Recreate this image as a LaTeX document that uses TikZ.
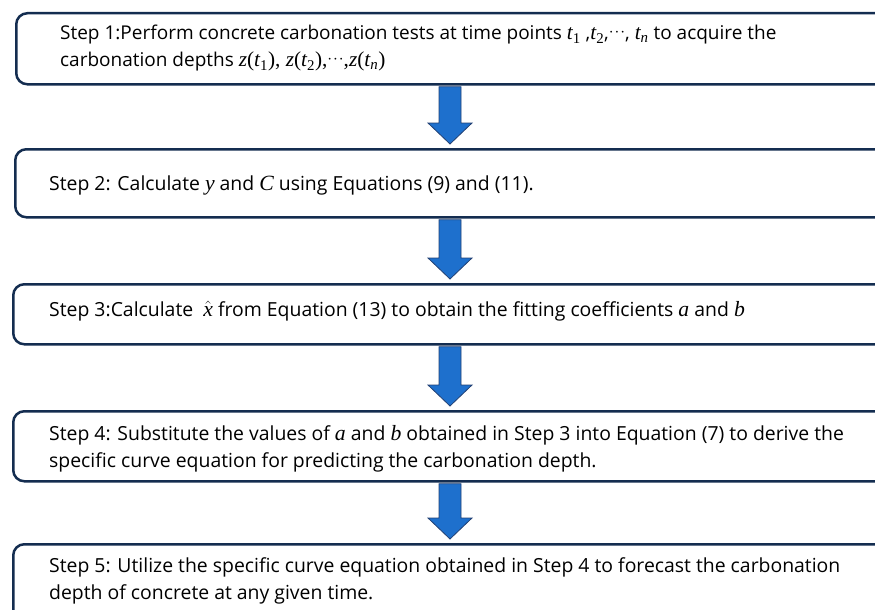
\documentclass[tikz,border=0pt]{standalone}
\usepackage{fontspec}
\setmainfont{Open Sans}
\newfontfamily\mathfnt[Scale=1.12]{Liberation Serif}
\usetikzlibrary{calc}

\definecolor{boxline}{RGB}{20,45,80}
\definecolor{arrowfill}{RGB}{30,112,205}
\definecolor{arrowline}{RGB}{35,65,115}

% italic serif variables and subscripted variables
\newcommand\mv[1]{{\mathfnt\itshape #1}}
\newcommand\msub[2]{\mv{#1}\textsubscript{\mathfnt #2}}
\newcommand\msubi[2]{\mv{#1}\textsubscript{\mathfnt\itshape #2}}
\newcommand\cdts{\raisebox{0.35ex}{$\cdot\!\cdot\!\cdot$}}

% downward block arrow between two stacked boxes
\newcommand\stepArrow[2]{%
  \draw[blockarrow] let \p1=(#1.south), \p2=(#2.north) in
    (439pt,{\y1-1.2pt}) -- (461pt,{\y1-1.2pt}) -- (461pt,{\y2+25pt})
    -- (472pt,{\y2+25pt}) -- (450pt,{\y2+4pt}) -- (428pt,{\y2+25pt})
    -- (439pt,{\y2+25pt}) -- cycle;}

\begin{document}
\begin{tikzpicture}[x=1pt,y=-1pt,
  stepbox/.style={draw=boxline, line width=2.5pt, rounded corners=11pt,
    fill=white, anchor=north west, inner sep=0pt, minimum width=880pt},
  steptext/.style={anchor=west, align=left, inner sep=0pt,
    font=\fontsize{19.4}{27}\selectfont},
  blockarrow/.style={fill=arrowfill, draw=arrowline, line width=0.8pt}]
\useasboundingbox (0,0) rectangle (875,610);

\node[stepbox, minimum height=71pt] (box1) at (15,12) {};
\node[stepbox, minimum height=68pt] (box2) at (14,148) {};
\node[stepbox, minimum height=60pt] (box3) at (12,283) {};
\node[stepbox, minimum height=70pt] (box4) at (12,410) {};
\node[stepbox, minimum height=90pt] (box5) at (12,543) {};

\node[steptext, font=\fontsize{19}{27}\selectfont] (txt1) at (60,48.5) {Step 1:Perform concrete carbonation tests at time points \msub{t}{1} ,\msub{t}{2},\cdts, \msubi{t}{n} to acquire the\\
carbonation depths {\mathfnt\mv{z}(\msub{t}{1}), \mv{z}(\msub{t}{2}),\cdts,\mv{z}(\msubi{t}{n})}};
\node[steptext] (txt2) at (49,185) {Step 2: Calculate \mv{y} and \mv{C} using Equations (9) and (11).};
\node[steptext] (txt3) at (49,311) {Step 3:Calculate \ $\hat{\hbox{\mathfnt\itshape x}}$\ from Equation (13) to obtain the fitting coefficients \mv{a} and \mv{b}};
\node[steptext] (txt4) at (49,448.5) {Step 4: Substitute the values of \mv{a} and \mv{b} obtained in Step 3 into Equation (7) to derive the\\
specific curve equation for predicting the carbonation depth.};
\node[steptext] (txt5) at (49,581) {Step 5: Utilize the specific curve equation obtained in Step 4 to forecast the carbonation\\
depth of concrete at any given time.};

\stepArrow{box1}{box2}
\stepArrow{box2}{box3}
\stepArrow{box3}{box4}
\stepArrow{box4}{box5}
\end{tikzpicture}
\end{document}
